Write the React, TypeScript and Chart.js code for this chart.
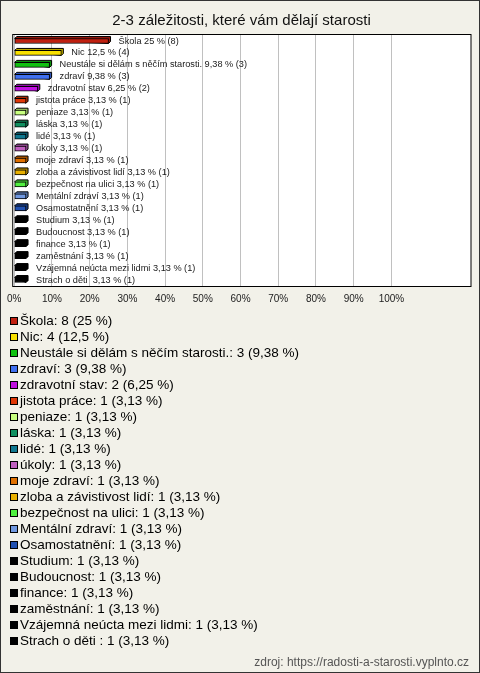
import React, { useEffect, useRef } from 'react';
import { Chart, registerables } from 'chart.js';

Chart.register(...registerables);

const TITLE = '2-3 záležitosti, které vám dělají starosti';
const SOURCE = 'zdroj: https://radosti-a-starosti.vyplnto.cz';

const categories = [
  'Škola',
  'Nic',
  'Neustále si dělám s něčím starosti.',
  'zdraví',
  'zdravotní stav',
  'jistota práce',
  'peniaze',
  'láska',
  'lidé',
  'úkoly',
  'moje zdraví',
  'zloba a závistivost lidí',
  'bezpečnost na ulici',
  'Mentální zdraví',
  'Osamostatnění',
  'Studium',
  'Budoucnost',
  'finance',
  'zaměstnání',
  'Vzájemná neúcta mezi lidmi',
  'Strach o děti ',
];

const counts = [8, 4, 3, 3, 2, 1, 1, 1, 1, 1, 1, 1, 1, 1, 1, 1, 1, 1, 1, 1, 1];

const percents = [
  25, 12.5, 9.38, 9.38, 6.25, 3.13, 3.13, 3.13, 3.13, 3.13, 3.13, 3.13, 3.13, 3.13,
  3.13, 3.13, 3.13, 3.13, 3.13, 3.13, 3.13,
];

const colors = [
  '#c02010',
  '#f8e000',
  '#10c010',
  '#4070f0',
  '#c010e0',
  '#e03808',
  '#c8ff80',
  '#109060',
  '#107890',
  '#c060c0',
  '#e07000',
  '#e8b000',
  '#50f040',
  '#7098e0',
  '#2050b0',
  '#000000',
  '#000000',
  '#000000',
  '#000000',
  '#000000',
  '#000000',
];

const xTickValues = [0, 10, 20, 30, 40, 50, 60, 70, 80, 90, 100];
const X_MAX = 121.1;

const FONT = '"Liberation Sans", Arial, Helvetica, sans-serif';
const BG = '#f2f1e9';

const fmt = (v: number) => String(v).replace('.', ',');

function shade(hex: string, f: number) {
  const n = parseInt(hex.slice(1), 16);
  const r = Math.round(((n >> 16) & 255) * f);
  const g = Math.round(((n >> 8) & 255) * f);
  const b = Math.round((n & 255) * f);
  return `rgb(${r},${g},${b})`;
}

const framePlugin = {
  id: 'frame',
  beforeDraw(chart: any) {
    const { ctx, chartArea: a, width, height } = chart;
    ctx.save();
    ctx.fillStyle = BG;
    ctx.fillRect(0, 0, width, height);
    ctx.fillStyle = '#ffffff';
    ctx.fillRect(a.left - 1, a.top, a.right - a.left + 1, a.bottom - a.top);
    ctx.restore();
  },
  beforeDatasetsDraw(chart: any) {
    const ctx = chart.ctx;
    const meta = chart.getDatasetMeta(0);
    meta.data.forEach((el: any, i: number) => {
      const { x, y, base, height } = el.getProps(['x', 'y', 'base', 'height'], true);
      const top = y - height / 2;
      const bot = y + height / 2;
      const d = 2;
      ctx.save();
      ctx.beginPath();
      ctx.moveTo(base, top);
      ctx.lineTo(base + d, top - d);
      ctx.lineTo(x + d, top - d);
      ctx.lineTo(x + d, bot - d);
      ctx.lineTo(x, bot);
      ctx.closePath();
      ctx.fillStyle = shade(colors[i], 0.75);
      ctx.fill();
      ctx.strokeStyle = '#000';
      ctx.lineWidth = 1;
      ctx.stroke();
      ctx.restore();
    });
  },
  afterDatasetsDraw(chart: any) {
    const { ctx, chartArea: a } = chart;
    const meta = chart.getDatasetMeta(0);
    ctx.save();
    ctx.font = `9.2px ${FONT}`;
    ctx.fillStyle = '#1a1a1a';
    ctx.textBaseline = 'middle';
    ctx.textAlign = 'left';
    meta.data.forEach((el: any, i: number) => {
      const { x, y } = el.getProps(['x', 'y'], true);
      ctx.fillText(`${categories[i]} ${fmt(percents[i])} % (${counts[i]})`, x + 10, y);
    });
    ctx.strokeStyle = '#000';
    ctx.lineWidth = 1;
    ctx.strokeRect(a.left - 1.5, a.top - 0.5, a.right - a.left + 1.5, a.bottom - a.top + 1);
    ctx.restore();
  },
  afterDraw(chart: any) {
    const { ctx, width, height } = chart;
    ctx.save();
    ctx.font = `13.5px ${FONT}`;
    ctx.textBaseline = 'middle';
    ctx.textAlign = 'left';
    categories.forEach((c, i) => {
      const y = 321 + 16 * i;
      ctx.fillStyle = colors[i];
      ctx.fillRect(10, y - 4, 8, 8);
      ctx.strokeStyle = '#000';
      ctx.lineWidth = 1;
      ctx.strokeRect(10.5, y - 3.5, 7, 7);
      ctx.fillStyle = '#000';
      ctx.fillText(`${c}: ${counts[i]} (${fmt(percents[i])} %)`, 20, y + 0.5);
    });
    ctx.font = `12px ${FONT}`;
    ctx.fillStyle = '#555';
    ctx.textAlign = 'right';
    ctx.fillText(SOURCE, 469, 663);
    ctx.strokeStyle = '#333';
    ctx.strokeRect(0.5, 0.5, width - 1, height - 1);
    ctx.restore();
  },
};

export default function App() {
  const ref = useRef<HTMLCanvasElement | null>(null);

  useEffect(() => {
    if (!ref.current) return;
    const chart = new Chart(ref.current, {
      type: 'bar',
      data: {
        labels: categories,
        datasets: [
          {
            data: percents,
            backgroundColor: colors,
            borderColor: '#000',
            borderWidth: 1,
            borderSkipped: false,
            barThickness: 5,
          },
        ],
      },
      options: {
        indexAxis: 'y',
        responsive: false,
        animation: false,
        devicePixelRatio: 1,
        layout: { padding: { left: 12, right: 9, top: 0, bottom: 361 } },
        plugins: {
          legend: { display: false },
          tooltip: { enabled: false },
          title: {
            display: true,
            text: TITLE,
            color: '#111',
            font: { family: FONT, size: 15, weight: 'normal' },
            padding: { top: 12, bottom: 5 },
          },
        },
        scales: {
          x: {
            type: 'linear',
            min: 0,
            max: X_MAX,
            afterBuildTicks: (scale: any) => {
              scale.ticks = xTickValues.map((v) => ({ value: v }));
            },
            ticks: {
              color: '#222',
              font: { family: FONT, size: 10 },
              padding: 7,
              maxRotation: 0,
              autoSkip: false,
              callback: (v: any) => `${v}%`,
            },
            grid: { color: '#c0c0c0', drawTicks: false },
            border: { display: false },
          },
          y: {
            display: false,
          },
        },
      },
      plugins: [framePlugin],
    });
    return () => chart.destroy();
  }, []);

  return (
    <div style={{ position: 'fixed', left: 0, top: 0, width: 480, height: 673 }}>
      <canvas ref={ref} width={480} height={673} />
    </div>
  );
}
